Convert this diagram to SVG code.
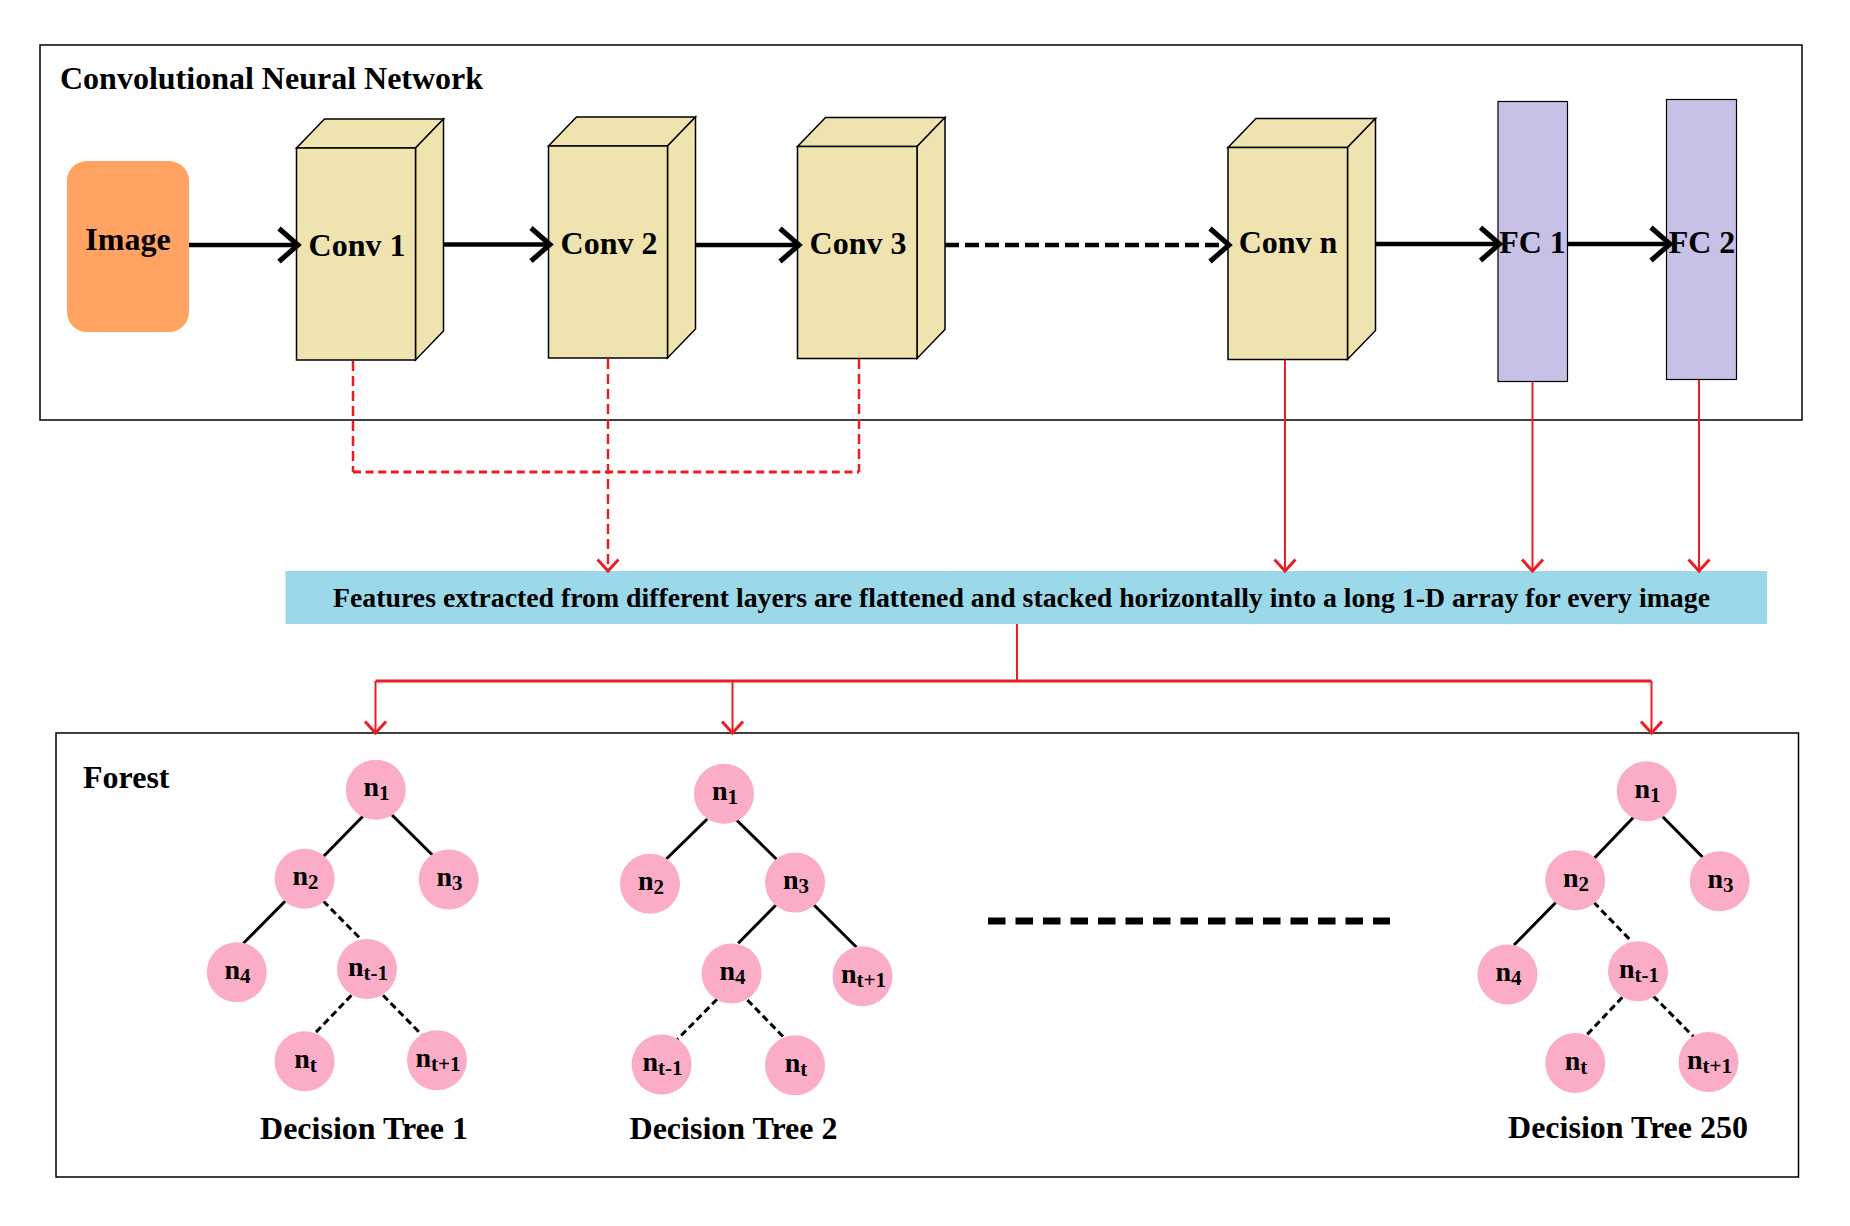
<svg xmlns="http://www.w3.org/2000/svg" width="1850" height="1226" viewBox="0 0 1850 1226">
<defs>
<style>
text{font-family:"Liberation Serif","Times New Roman",serif;font-weight:bold;fill:#000}
.t31{font-size:32px}
.mid{text-anchor:middle}
.frame{fill:none;stroke:#000;stroke-width:1.5}
.conv{fill:#EFE3B0;stroke:#000;stroke-width:1.5;stroke-linejoin:miter}
.fc{fill:#C8C0E6;stroke:#000;stroke-width:1.2}
.blk{fill:none;stroke:#000;stroke-width:4.5}
.blkd{fill:none;stroke:#000;stroke-width:4.5;stroke-dasharray:14 6}
.red{fill:none;stroke:#ED1C24;stroke-width:2}
.redd{fill:none;stroke:#ED1C24;stroke-width:2.5;stroke-dasharray:10 5}
.reddh{fill:none;stroke:#ED1C24;stroke-width:3;stroke-dasharray:8 4.6}
.redb{fill:none;stroke:#ED1C24;stroke-width:3}
.edge{fill:none;stroke:#000;stroke-width:3}
.edged{fill:none;stroke:#000;stroke-width:3;stroke-dasharray:7 4}
.node{fill:#FBADC8}
.nl{font-size:28px;text-anchor:middle}
.sub{font-size:21px}
</style>
<marker id="ab" markerUnits="userSpaceOnUse" viewBox="-24 -21 28 42" refX="0" refY="0" markerWidth="28" markerHeight="42" orient="auto">
<path d="M-19,-16.5 L0,0 L-19,16.5" fill="none" stroke="#000" stroke-width="5"/>
</marker>
<marker id="ar" markerUnits="userSpaceOnUse" viewBox="-15 -14 18 28" refX="0" refY="0" markerWidth="18" markerHeight="28" orient="auto">
<path d="M-11.5,-10.5 L0,0 L-11.5,10.5" fill="none" stroke="#ED1C24" stroke-width="3"/>
</marker>
</defs>
<rect width="1850" height="1226" fill="#fff"/>

<g id="cnn">
<rect class="frame" x="40" y="45" width="1762" height="375"/>
<text class="t31" x="60" y="89">Convolutional Neural Network</text>
</g>

<g id="image">
<rect x="67" y="161" width="122" height="171" rx="20" fill="#FFA262"/>
<text class="t31 mid" x="128" y="250">Image</text>
</g>

<g id="conv1">
<polygon class="conv" points="296.5,148 324.5,119 443.5,119 415.5,148"/>
<polygon class="conv" points="415.5,148 443.5,119 443.5,331 415.5,360"/>
<rect class="conv" x="296.5" y="148" width="119" height="212"/>
<text class="t31 mid" x="357" y="256">Conv 1</text>
</g>
<g id="conv2">
<polygon class="conv" points="548.5,146 576.5,117 695.5,117 667.5,146"/>
<polygon class="conv" points="667.5,146 695.5,117 695.5,329 667.5,358"/>
<rect class="conv" x="548.5" y="146" width="119" height="212"/>
<text class="t31 mid" x="609" y="254">Conv 2</text>
</g>
<g id="conv3">
<polygon class="conv" points="797.5,146.5 825.5,117.5 945,117.5 917,146.5"/>
<polygon class="conv" points="917,146.5 945,117.5 945,329.5 917,358.5"/>
<rect class="conv" x="797.5" y="146.5" width="119.5" height="212"/>
<text class="t31 mid" x="858" y="253.5">Conv 3</text>
</g>
<g id="convn">
<polygon class="conv" points="1228,147.5 1256,118.5 1375.5,118.5 1347.5,147.5"/>
<polygon class="conv" points="1347.5,147.5 1375.5,118.5 1375.5,330.5 1347.5,359.5"/>
<rect class="conv" x="1228" y="147.5" width="119.5" height="212"/>
<text class="t31 mid" x="1288" y="253">Conv n</text>
</g>
<g id="fc1">
<rect class="fc" x="1498" y="101.5" width="69.5" height="280"/>
<text class="t31 mid" x="1532.5" y="253">FC 1</text>
</g>
<g id="fc2">
<rect class="fc" x="1666.5" y="99.5" width="70" height="280"/>
<text class="t31 mid" x="1702" y="253">FC 2</text>
</g>

<g id="features">
<rect x="285.5" y="571" width="1481.5" height="53" fill="#9BD9EA"/>
<text class="mid" style="font-size:27.8px" x="1021.5" y="606.5">Features extracted from different layers are flattened and stacked horizontally into a long 1-D array for every image</text>
</g>

<g id="forest">
<rect class="frame" x="56" y="733" width="1742.5" height="444"/>
<text class="t31" x="83" y="787.5">Forest</text>
</g>

<g id="connectors">
<path class="blk" d="M189,245 H298" marker-end="url(#ab)"/>
<path class="blk" d="M444,244.5 H550" marker-end="url(#ab)"/>
<path class="blk" d="M696,245 H799" marker-end="url(#ab)"/>
<path class="blkd" d="M945,245 H1229" marker-end="url(#ab)"/>
<path class="blk" d="M1375.5,244 H1499.5" marker-end="url(#ab)"/>
<path class="blk" d="M1567.5,244 H1670" marker-end="url(#ab)"/>

<path class="redd" d="M353,361 V472"/>
<path class="redd" d="M859,359 V472"/>
<path class="reddh" d="M353,472 H859"/>
<path class="redd" d="M608,359 V571" marker-end="url(#ar)"/>
<path class="red" d="M1285,360 V571" marker-end="url(#ar)"/>
<path class="red" d="M1532.5,382 V571" marker-end="url(#ar)"/>
<path class="red" d="M1699,380 V571" marker-end="url(#ar)"/>

<path class="red" d="M1017,624 V681"/>
<path class="redb" d="M375.5,681 H1651.5"/>
<path class="red" d="M375.5,681 V733" marker-end="url(#ar)"/>
<path class="red" d="M732.5,681 V733" marker-end="url(#ar)"/>
<path class="red" d="M1651.5,681 V733" marker-end="url(#ar)"/>

<path d="M988,921 H1390" fill="none" stroke="#000" stroke-width="7" stroke-dasharray="17.5 10"/>

<path class="edge" d="M363.4,815.7 L323.2,856.7"/>
<path class="edge" d="M392,815 L433.4,856"/>
<path class="edge" d="M285.3,901 L243.4,943.3"/>
<path class="edged" d="M323.2,901 L361.7,940"/>
<path class="edged" d="M351.4,995.3 L314,1034.3"/>
<path class="edged" d="M383,995.3 L422,1035"/>

<path class="edge" d="M707.2,819 L665.3,860"/>
<path class="edge" d="M736.5,820 L777.3,860"/>
<path class="edge" d="M776,905 L738.2,943.3"/>
<path class="edge" d="M814,905 L856.5,947.3"/>
<path class="edged" d="M717,999.3 L677.4,1039.3"/>
<path class="edged" d="M747.4,1000 L784.7,1038.3"/>

<path class="edge" d="M1633.5,817.3 L1594.3,858.3"/>
<path class="edge" d="M1662.7,816.7 L1703.7,858.3"/>
<path class="edge" d="M1556,902.3 L1514,945"/>
<path class="edged" d="M1593.7,902.3 L1631.9,941.7"/>
<path class="edged" d="M1622.3,997.3 L1585.8,1036"/>
<path class="edged" d="M1653.2,996 L1693.6,1036.7"/>
</g>

<g id="tree1">
<g id="t1n1"><circle class="node" cx="375.8" cy="789.7" r="30"/><text class="nl" x="376.5" y="796">n<tspan class="sub" dy="4">1</tspan></text></g>
<g id="t1n2"><circle class="node" cx="304.6" cy="878.7" r="30"/><text class="nl" x="305.5" y="885">n<tspan class="sub" dy="4">2</tspan></text></g>
<g id="t1n3"><circle class="node" cx="448.7" cy="879.5" r="30"/><text class="nl" x="449.5" y="886">n<tspan class="sub" dy="4">3</tspan></text></g>
<g id="t1n4"><circle class="node" cx="236.8" cy="972.3" r="30"/><text class="nl" x="237.5" y="978.5">n<tspan class="sub" dy="4">4</tspan></text></g>
<g id="t1nt-1"><circle class="node" cx="367" cy="969" r="30"/><text class="nl" x="368" y="975.5">n<tspan class="sub" dy="4">t-1</tspan></text></g>
<g id="t1nt"><circle class="node" cx="304.6" cy="1061.3" r="30"/><text class="nl" x="305.5" y="1067.5">n<tspan class="sub" dy="4">t</tspan></text></g>
<g id="t1nt+1"><circle class="node" cx="437" cy="1060.3" r="30"/><text class="nl" x="438" y="1066.5">n<tspan class="sub" dy="4">t+1</tspan></text></g>
<text class="t31 mid" x="364" y="1139">Decision Tree 1</text>
</g>

<g id="tree2">
<g id="t2n1"><circle class="node" cx="724" cy="793.7" r="30"/><text class="nl" x="725" y="800">n<tspan class="sub" dy="4">1</tspan></text></g>
<g id="t2n2"><circle class="node" cx="650" cy="883.7" r="30"/><text class="nl" x="651" y="890">n<tspan class="sub" dy="4">2</tspan></text></g>
<g id="t2n3"><circle class="node" cx="795" cy="882.5" r="30"/><text class="nl" x="796" y="889">n<tspan class="sub" dy="4">3</tspan></text></g>
<g id="t2n4"><circle class="node" cx="731.6" cy="973.5" r="30"/><text class="nl" x="732.5" y="980">n<tspan class="sub" dy="4">4</tspan></text></g>
<g id="t2nt+1"><circle class="node" cx="862.5" cy="976.3" r="30"/><text class="nl" x="863.5" y="982.5">n<tspan class="sub" dy="4">t+1</tspan></text></g>
<g id="t2nt-1"><circle class="node" cx="661.6" cy="1064.5" r="30"/><text class="nl" x="662.5" y="1071">n<tspan class="sub" dy="4">t-1</tspan></text></g>
<g id="t2nt"><circle class="node" cx="795" cy="1065.3" r="30"/><text class="nl" x="796" y="1071.5">n<tspan class="sub" dy="4">t</tspan></text></g>
<text class="t31 mid" x="733.5" y="1139">Decision Tree 2</text>
</g>

<g id="tree250">
<g id="t3n1"><circle class="node" cx="1646.7" cy="791.3" r="30"/><text class="nl" x="1647.5" y="797.5">n<tspan class="sub" dy="4">1</tspan></text></g>
<g id="t3n2"><circle class="node" cx="1575.2" cy="880.3" r="30"/><text class="nl" x="1576" y="886.5">n<tspan class="sub" dy="4">2</tspan></text></g>
<g id="t3n3"><circle class="node" cx="1719.7" cy="881.3" r="30"/><text class="nl" x="1720.5" y="887.5">n<tspan class="sub" dy="4">3</tspan></text></g>
<g id="t3n4"><circle class="node" cx="1507.5" cy="974.5" r="30"/><text class="nl" x="1508.5" y="981">n<tspan class="sub" dy="4">4</tspan></text></g>
<g id="t3nt-1"><circle class="node" cx="1638" cy="971.3" r="30"/><text class="nl" x="1639" y="977.5">n<tspan class="sub" dy="4">t-1</tspan></text></g>
<g id="t3nt"><circle class="node" cx="1575.2" cy="1063" r="30"/><text class="nl" x="1576" y="1069.5">n<tspan class="sub" dy="4">t</tspan></text></g>
<g id="t3nt+1"><circle class="node" cx="1708.5" cy="1062" r="30"/><text class="nl" x="1709.5" y="1068.5">n<tspan class="sub" dy="4">t+1</tspan></text></g>
<text class="t31 mid" x="1628" y="1138">Decision Tree 250</text>
</g>
</svg>
